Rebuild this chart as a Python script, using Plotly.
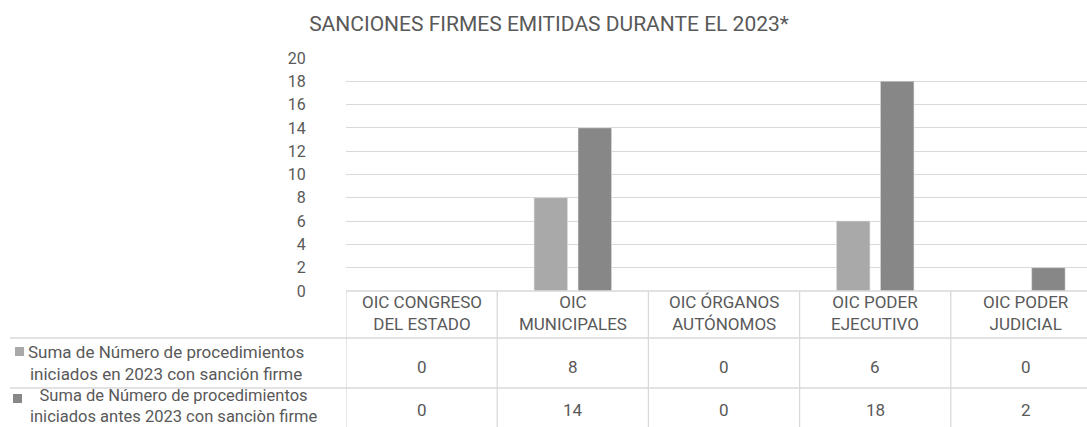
import plotly.graph_objects as go

categories = ["OIC CONGRESO DEL ESTADO", "OIC MUNICIPALES", "OIC ÓRGANOS AUTÓNOMOS",
              "OIC PODER EJECUTIVO", "OIC PODER JUDICIAL"]
header_labels = ["OIC CONGRESO<br>DEL ESTADO", "OIC<br>MUNICIPALES", "OIC ÓRGANOS<br>AUTÓNOMOS",
                 "OIC PODER<br>EJECUTIVO", "OIC PODER<br>JUDICIAL"]
series_names = ["Suma de Número de procedimientos<br>iniciados en 2023 con sanción firme",
                "Suma de Número de procedimientos<br>iniciados antes 2023 con sanciòn firme"]
values_2023 = [0, 8, 0, 6, 0]
values_antes = [0, 14, 0, 18, 2]
y_ticks = [0, 2, 4, 6, 8, 10, 12, 14, 16, 18, 20]

W, H = 1087, 427
TXT = "#595959"
GRID = "#D9D9D9"
colors = ["#A9A9A9", "#878787"]
FONT = "Roboto"

def py(p):
    return (H - p) / H

def px(p):
    return p / W

fig = go.Figure()
for name, vals, col in zip(series_names, [values_2023, values_antes], colors):
    fig.add_trace(go.Bar(x=categories, y=vals, name=name,
                         marker=dict(color=col, line=dict(color="#E0E0E0", width=0.5)),
                         showlegend=False))

col_w = 151.2
x_left = 346
n = len(categories)
right_edge_cat = -0.5 + (W - x_left) / col_w

shapes = []
for i in range(n):
    shapes.append(dict(type="line", xref="x", yref="paper", x0=i - 0.5, x1=i - 0.5,
                       y0=py(291), y1=py(430), line=dict(color=GRID, width=1.3)))
shapes.append(dict(type="line", xref="paper", yref="paper", x0=px(x_left), x1=1, y0=py(291), y1=py(291),
                   line=dict(color=GRID, width=1.3)))
for yy in [338, 388]:
    shapes.append(dict(type="line", xref="paper", yref="paper", x0=px(10), x1=1, y0=py(yy), y1=py(yy),
                       line=dict(color=GRID, width=1.3)))
for (x0, y0), col in zip([(15, 347), (13, 394)], colors):
    shapes.append(dict(type="rect", xref="paper", yref="paper", x0=px(x0), x1=px(x0 + 9),
                       y0=py(y0 + 9), y1=py(y0), fillcolor=col, line=dict(width=0)))

annotations = []
for cat, lab in zip(categories, header_labels):
    annotations.append(dict(xref="x", yref="paper", x=cat, y=py(313), text=lab, showarrow=False,
                            yanchor="middle", xanchor="center", align="center",
                            font=dict(family=FONT, size=17, color=TXT)))
for vals, yy in [(values_2023, 367), (values_antes, 410)]:
    for cat, v in zip(categories, vals):
        annotations.append(dict(xref="x", yref="paper", x=cat, y=py(yy), text=str(v), showarrow=False,
                                yanchor="middle", xanchor="center",
                                font=dict(family=FONT, size=17, color=TXT)))
for name, xc, yy, fs in zip(series_names, [166, 173], [363, 406], [17, 16.5]):
    annotations.append(dict(xref="paper", yref="paper", x=px(xc), y=py(yy), text=name, showarrow=False,
                            yanchor="middle", xanchor="center", align="center",
                            font=dict(family=FONT, size=fs, color=TXT)))

fig.update_layout(
    width=W, height=H,
    margin=dict(l=0, r=0, t=0, b=0, pad=0, autoexpand=False),
    paper_bgcolor="white", plot_bgcolor="white",
    title=dict(text="SANCIONES FIRMES EMITIDAS DURANTE EL 2023*", x=549 / W, xanchor="center",
               y=py(24), yanchor="middle", automargin=False,
               font=dict(family=FONT, size=21, color=TXT)),
    barmode="group", bargap=0.418, bargroupgap=0.24,
    xaxis=dict(domain=[px(x_left), 1], range=[-0.5, right_edge_cat], showticklabels=False,
               showgrid=False, zeroline=False, showline=False, fixedrange=True, automargin=False),
    yaxis=dict(domain=[py(291), py(58)], range=[0, 20], tickvals=y_ticks, automargin=False,
               showgrid=True, gridcolor=GRID, gridwidth=1.3, zeroline=False, showline=False,
               ticks="outside", ticklen=36, tickcolor="rgba(0,0,0,0)", fixedrange=True,
               tickfont=dict(family=FONT, size=16, color=TXT)),
    shapes=shapes, annotations=annotations,
)

fig.write_html("out.html", config={"displayModeBar": False},
               post_script="document.body.style.margin='0';document.body.style.overflow='hidden';")
